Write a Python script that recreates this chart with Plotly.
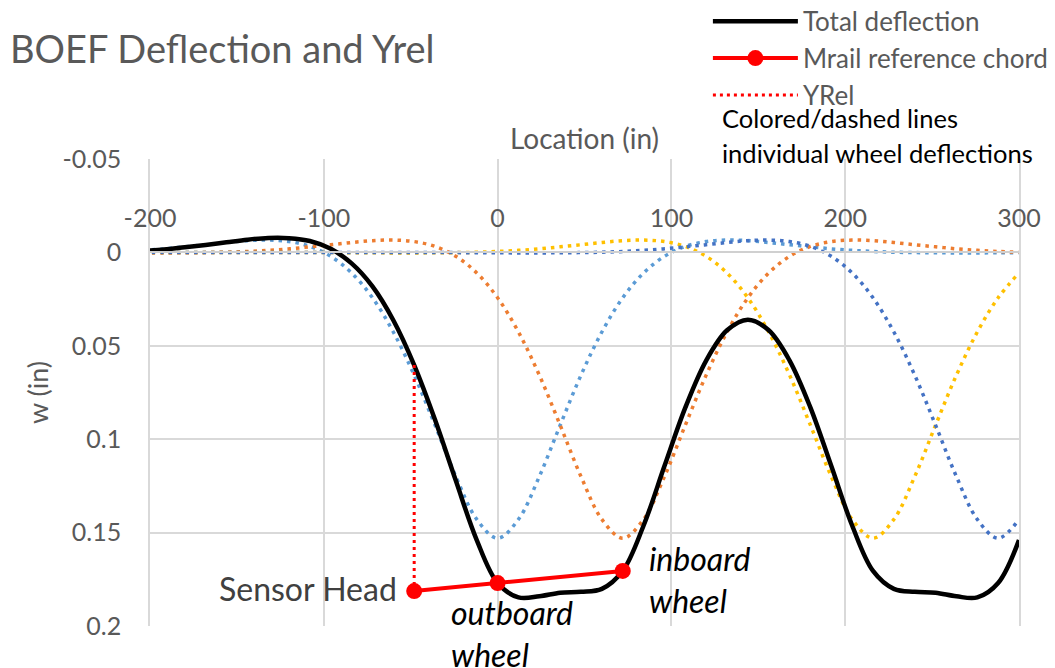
import plotly.graph_objects as go

# Location along the rail (in)
location = [-204, -192, -180, -168, -156, -144, -132, -120, -108, -96, -84, -72, -60, -48, -36,
            -24, -12, 0, 12, 24, 36, 48, 60, 72, 84, 96, 108, 120, 132, 144, 156, 168, 180,
            192, 204, 216, 228, 240, 252, 264, 276, 288, 300]

# Individual wheel deflections (in)
wheel_1 = [-0.0011, -0.0019, -0.0030, -0.0041, -0.0053, -0.0063, -0.0066, -0.0058, -0.0032, 0.0021,
           0.0110, 0.0243, 0.0426, 0.0657, 0.0925, 0.1200, 0.1429, 0.1530, 0.1429, 0.1200,
           0.0925, 0.0657, 0.0426, 0.0243, 0.0110, 0.0021, -0.0032, -0.0058, -0.0066, -0.0063,
           -0.0053, -0.0041, -0.0030, -0.0019, -0.0011, -0.0005, -0.0001, 0.0001, 0.0002, 0.0003,
           0.0003, 0.0002, 0.0002]
wheel_2 = [0.0003, 0.0003, 0.0002, 0.0001, -0.0001, -0.0005, -0.0011, -0.0019, -0.0030, -0.0041,
           -0.0053, -0.0063, -0.0066, -0.0058, -0.0032, 0.0021, 0.0110, 0.0243, 0.0426, 0.0657,
           0.0925, 0.1200, 0.1429, 0.1530, 0.1429, 0.1200, 0.0925, 0.0657, 0.0426, 0.0243,
           0.0110, 0.0021, -0.0032, -0.0058, -0.0066, -0.0063, -0.0053, -0.0041, -0.0030, -0.0019,
           -0.0011, -0.0005, -0.0001]
wheel_3 = [0.0, 0.0, 0.0, 0.0, 0.0, 0.0, 0.0, 0.0001, 0.0001, 0.0001,
           0.0002, 0.0002, 0.0003, 0.0003, 0.0002, 0.0001, -0.0001, -0.0005, -0.0011, -0.0019,
           -0.0030, -0.0041, -0.0053, -0.0063, -0.0066, -0.0058, -0.0032, 0.0021, 0.0110, 0.0243,
           0.0426, 0.0657, 0.0925, 0.1200, 0.1429, 0.1530, 0.1429, 0.1200, 0.0925, 0.0657,
           0.0426, 0.0243, 0.0110]
wheel_4 = [0.0, 0.0, 0.0, 0.0, 0.0, 0.0, 0.0, 0.0, 0.0, 0.0,
           0.0, 0.0, 0.0, 0.0001, 0.0001, 0.0001, 0.0002, 0.0002, 0.0003, 0.0003,
           0.0002, 0.0001, -0.0001, -0.0005, -0.0011, -0.0019, -0.0030, -0.0041, -0.0053, -0.0063,
           -0.0066, -0.0058, -0.0032, 0.0021, 0.0110, 0.0243, 0.0426, 0.0657, 0.0925, 0.1200,
           0.1429, 0.1530, 0.1429]

# Total deflection (in)
total_deflection = [-0.0008, -0.0016, -0.0028, -0.0040, -0.0054, -0.0068, -0.0077, -0.0076, -0.0061, -0.0019,
                    0.0059, 0.0182, 0.0363, 0.0603, 0.0896, 0.1223, 0.1540, 0.1770, 0.1847, 0.1841,
                    0.1822, 0.1817, 0.1801, 0.1705, 0.1462, 0.1144, 0.0831, 0.0579, 0.0417, 0.0360,
                    0.0417, 0.0579, 0.0831, 0.1144, 0.1462, 0.1705, 0.1801, 0.1817, 0.1822, 0.1841,
                    0.1847, 0.1770, 0.1540]

# Mrail reference chord: sensor head, outboard wheel, inboard wheel
chord_x = [-48, 0, 72]
chord_y = [0.1813, 0.1770, 0.1705]

# YRel: sensor head offset from the rail
yrel_x = [-48, -48]
yrel_y = [0.0603, 0.1813]

x_ticks = [-200, -100, 0, 100, 200, 300]
x_tick_labels = ["-200", "-100", "0", "100", "200", "300"]
y_ticks = [-0.05, 0, 0.05, 0.1, 0.15, 0.2]
y_tick_labels = ["-0.05", "0", "0.05", "0.1", "0.15", "0.2"]

WHEEL_COLORS = ['#5B9BD5', '#ED7D31', '#FFC000', '#4472C4']
FONT = "Lato, 'Open Sans', sans-serif"
GREY = '#595959'

# page body has an 8px default margin, so the figure is 8px smaller than the window
W, H, PAD = 1055 - 8, 668 - 8, 8

fig = go.Figure()

for ys, col in zip([wheel_1, wheel_2, wheel_3, wheel_4], WHEEL_COLORS):
    fig.add_trace(go.Scatter(
        x=location, y=ys, mode='lines', showlegend=False,
        line=dict(color=col, width=3.5, dash='3.5px,5px', shape='spline', smoothing=1.0),
        hoverinfo='skip'
    ))

fig.add_trace(go.Scatter(
    x=location, y=total_deflection, mode='lines', name='Total deflection',
    line=dict(color='black', width=4.5, shape='spline', smoothing=1.0)
))
fig.add_trace(go.Scatter(
    x=chord_x, y=chord_y, mode='lines+markers', name='Mrail reference chord',
    line=dict(color='#FF0000', width=4),
    marker=dict(color='#FF0000', size=16)
))
fig.add_trace(go.Scatter(
    x=yrel_x, y=yrel_y, mode='lines', name='YRel',
    line=dict(color='#FF0000', width=3, dash='3px,4px')
))

# Text labels on the chart
fig.add_annotation(x=-48, y=chord_y[0], xref='x', yref='y', text='Sensor Head',
                   showarrow=False, xanchor='right', yanchor='middle', xshift=-15, yshift=3,
                   font=dict(size=32, color='#404040', family=FONT))
fig.add_annotation(x=-28, y=0.1815, xref='x', yref='y', text='<i>outboard<br>wheel</i>',
                   showarrow=False, xanchor='left', yanchor='top', align='left',
                   font=dict(size=32, color='black', family=FONT))
fig.add_annotation(x=86, y=0.1525, xref='x', yref='y', text='<i>inboard<br>wheel</i>',
                   showarrow=False, xanchor='left', yanchor='top', align='left',
                   font=dict(size=32, color='black', family=FONT))
fig.add_annotation(x=0.5, y=1.045, xref='paper', yref='paper', text='Location (in)',
                   showarrow=False, xanchor='center', yanchor='middle',
                   font=dict(size=28, color=GREY, family=FONT))
fig.add_annotation(x=0.656, y=1.088, xref='paper', yref='paper', text='Colored/dashed lines',
                   showarrow=False, xanchor='left', yanchor='middle',
                   font=dict(size=25.5, color='black', family=FONT))
fig.add_annotation(x=0.656, y=1.013, xref='paper', yref='paper', text='individual wheel deflections',
                   showarrow=False, xanchor='left', yanchor='middle',
                   font=dict(size=25.5, color='black', family=FONT))

fig.update_layout(
    width=W, height=H, autosize=False,
    margin=dict(l=150 - PAD, r=36, t=159 - PAD, b=42, autoexpand=False),
    paper_bgcolor='white', plot_bgcolor='white',
    font=dict(family=FONT, color=GREY, size=25),
    title=dict(text='BOEF Deflection and Yrel', x=(10 - PAD) / W, xanchor='left',
               y=1 - (50 - PAD) / H, yanchor='middle', xref='container', yref='container',
               font=dict(size=38, color=GREY, family=FONT)),
    showlegend=True,
    legend=dict(x=0.642, y=1.345, xanchor='left', yanchor='top',
                bgcolor='rgba(0,0,0,0)', font=dict(size=26, color=GREY, family=FONT),
                itemwidth=85, tracegroupgap=0),
    xaxis=dict(
        range=[-200, 300], tickvals=x_ticks, ticktext=x_tick_labels,
        side='top', anchor='free', position=0.8009,
        showgrid=True, gridcolor='#d9d9d9', gridwidth=1.5,
        zeroline=False, showline=True, linecolor='#d0d0d0', linewidth=1.5,
        ticks='', ticklabelstandoff=14,
        tickfont=dict(size=25, color=GREY)
    ),
    yaxis=dict(
        range=[0.2, -0.05], tickvals=y_ticks, ticktext=y_tick_labels,
        showgrid=True, gridcolor='#d9d9d9', gridwidth=1.5,
        zeroline=False, showline=True, linecolor='#d9d9d9', linewidth=1.5, mirror=True,
        ticks='', ticklabelstandoff=22,
        title=dict(text='w (in)', standoff=6, font=dict(size=27, color=GREY)),
        tickfont=dict(size=25, color=GREY)
    ),
)

fig.write_html("out.html")
